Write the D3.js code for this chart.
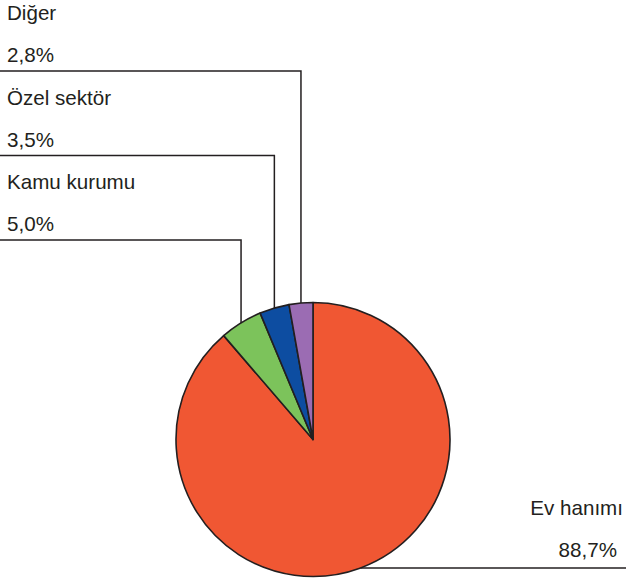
<!DOCTYPE html>
<html>
<head>
<meta charset="utf-8">
<script src="https://cdn.jsdelivr.net/npm/d3@7"></script>
<style>
  body { margin: 0; background: #fff; }
  svg text { font-family: "Liberation Sans", Arial, sans-serif; font-size: 20.6px; fill: #231f20; }
</style>
</head>
<body>
<div id="block"></div>
<script>
// data
var categories = ["Ev hanımı", "Kamu kurumu", "Özel sektör", "Diğer"];
var values = [88.7, 5.0, 3.5, 2.8];
var valueLabels = ["88,7%", "5,0%", "3,5%", "2,8%"];
var colors = ["#f05733", "#7cc35b", "#0d4da1", "#9b6cb3"];

// dimensions
var svg_dx = 626,
    svg_dy = 582,
    cx = 313,
    cy = 439.5,
    radius = 137;

var svg = d3.select("#block")
            .append("svg")
            .attr("width", svg_dx)
            .attr("height", svg_dy);

var pie = d3.pie()
            .sort(null)
            .value(function(d) { return d; });

var arcs = pie(values);

var arc = d3.arc()
            .innerRadius(0)
            .outerRadius(radius);

// slices
svg.append("g")
   .attr("transform", "translate(" + cx + "," + cy + ")")
   .selectAll("path")
   .data(arcs)
   .enter()
   .append("path")
   .attr("d", arc)
   .attr("fill", function(d, i) { return colors[i]; })
   .attr("stroke", "#231f20")
   .attr("stroke-width", 1.6)
   .attr("stroke-linejoin", "round");

// point on the rim at the middle of a slice
function rimPoint(d) {
    var a = (d.startAngle + d.endAngle) / 2;
    return [cx + radius * Math.sin(a), cy - radius * Math.cos(a)];
}

var labels = svg.append("g");

arcs.forEach(function(d, i) {
    var p = rimPoint(d);
    if (i === 0) {
        // big slice: label on the right, bottom
        labels.append("path")
              .attr("d", "M" + p[0] + "," + p[1] + "H" + svg_dx)
              .attr("fill", "none")
              .attr("stroke", "#231f20")
              .attr("stroke-width", 1.5);
        labels.append("text")
              .attr("x", 623).attr("y", p[1] - 53)
              .attr("text-anchor", "end")
              .text(categories[i]);
        labels.append("text")
              .attr("x", 617).attr("y", p[1] - 11)
              .attr("text-anchor", "end")
              .text(valueLabels[i]);
    } else {
        // small slices: stacked on the top left
        var row = values.length - 1 - i,
            lineY = 71 + row * 84.5;
        labels.append("path")
              .attr("d", "M" + p[0] + "," + p[1] + "V" + lineY + "H0")
              .attr("fill", "none")
              .attr("stroke", "#231f20")
              .attr("stroke-width", 1.5);
        labels.append("text")
              .attr("x", 7).attr("y", lineY - 51)
              .text(categories[i]);
        labels.append("text")
              .attr("x", 7).attr("y", lineY - 9)
              .text(valueLabels[i]);
    }
});
</script>
</body>
</html>
